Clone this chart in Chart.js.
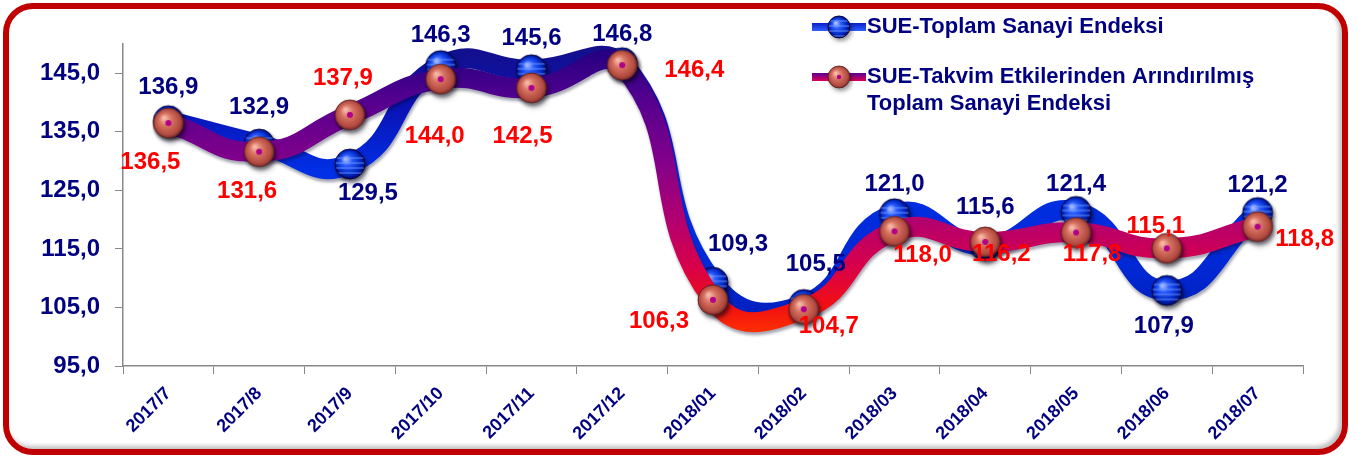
<!DOCTYPE html>
<html>
<head>
<meta charset="utf-8">
<script src="https://cdn.jsdelivr.net/npm/chart.js@4.4.0/dist/chart.umd.min.js"></script>
<style>
body{margin:0;background:#fff;width:1362px;height:458px;overflow:hidden}
#box{position:absolute;left:3px;top:3px;width:1333px;height:440px;border:6px solid #c00000;border-radius:30px;background:#fff;
box-shadow:inset -3px -3px 4px rgba(0,0,0,0.25);overflow:hidden}
#chart{display:block}
</style>
</head>
<body>
<div id="box"><canvas id="chart" width="1333" height="440"></canvas></div>
<script>

// data
const months = ["2017/7","2017/8","2017/9","2017/10","2017/11","2017/12","2018/01","2018/02","2018/03","2018/04","2018/05","2018/06","2018/07"]
const toplam = [136.9,132.9,129.5,146.3,145.6,146.8,109.3,105.5,121.0,115.6,121.4,107.9,121.2]
const takvim = [136.5,131.6,137.9,144.0,142.5,146.4,106.3,104.7,118.0,116.2,117.8,115.1,118.8]
const yTicks = [95,105,115,125,135,145]
const seriesNames = ["SUE-Toplam Sanayi Endeksi","SUE-Takvim Etkilerinden Arındırılmış Toplam Sanayi Endeksi"]

// where each value label sits, relative to its point
const blueLabelPos = [[0,-33],[0,-37],[18,29],[0,-30],[0,-31],[0,-28],[25,-38],[12,-40],[0,-29],[0,-38],[0,-27],[-3,36],[0,-27]]
const redLabelPos = [[-18,39],[-12,40],[-7,-36],[-6,57],[-9,48],[72,5],[-54,22],[25,17],[28,24],[16,12],[16,22],[-11,-22],[47,13]]

const NAVY = "#000080"
const RED = "#ff0000"
const FONT = "'Liberation Sans', Arial, sans-serif"

function fmt(v){
return v.toFixed(1).replace(".",",")
}

function sphere(r, blue){
const c = document.createElement("canvas")
const s = r*2+14
c.width = s
c.height = s
const g = c.getContext("2d")
const cx = s/2, cy = s/2
g.save()
g.shadowColor = "rgba(0,0,0,0.4)"
g.shadowBlur = 4
g.shadowOffsetX = 2
g.shadowOffsetY = 3
const rg = g.createRadialGradient(cx-r*0.3, cy-r*0.35, 1, cx, cy, r*1.05)
if(blue){
rg.addColorStop(0,"#a8bcff")
rg.addColorStop(0.3,"#2a5cff")
rg.addColorStop(0.75,"#0026c0")
rg.addColorStop(1,"#000050")
}else{
rg.addColorStop(0,"#f6b8a8")
rg.addColorStop(0.35,"#d87462")
rg.addColorStop(0.8,"#b24a40")
rg.addColorStop(1,"#6a2424")
}
g.fillStyle = rg
g.beginPath()
g.arc(cx,cy,r,0,Math.PI*2)
g.fill()
g.restore()
g.save()
g.beginPath()
g.arc(cx,cy,r,0,Math.PI*2)
g.clip()
if(blue){
g.strokeStyle = "rgba(120,160,255,0.55)"
g.lineWidth = 1.6
;[-6,-1,4,9].forEach(d=>{
g.beginPath()
g.moveTo(cx-r,cy+d)
g.lineTo(cx+r,cy+d)
g.stroke()
})
}
g.restore()
g.strokeStyle = blue ? "rgba(0,0,60,0.9)" : "rgba(90,30,30,0.8)"
g.lineWidth = 1
g.beginPath()
g.arc(cx,cy,r,0,Math.PI*2)
g.stroke()
if(!blue){
g.fillStyle = "#b0008a"
g.beginPath()
g.arc(cx,cy,r*0.2,0,Math.PI*2)
g.fill()
}
return c
}

const blueBall = sphere(15,true)
const redBall = sphere(15,false)
const blueBallSmall = sphere(11,true)
const redBallSmall = sphere(11,false)

function lineGradient(chart, stops){
const {ctx, chartArea, scales} = chart
if(!chartArea) return null
const y = scales.y
const top = y.getPixelForValue(150)
const bottom = y.getPixelForValue(95)
const grad = ctx.createLinearGradient(0,top,0,bottom)
stops.forEach(s=>{
grad.addColorStop(Math.min(1,Math.max(0,(150-s[0])/55)), s[1])
})
return grad
}

const blueStops = [[150,"#14108a"],[140,"#0a10b0"],[128,"#0030e6"],[112,"#0028d4"],[95,"#0018a8"]]
const redStops = [[150,"#1e0080"],[140,"#56008f"],[130,"#82008a"],[120,"#b20070"],[112,"#d8004a"],[105,"#f21010"],[100,"#ff3600"],[96,"#ff7800"]]

const tubeShadow = {
id:"tubeShadow",
beforeDatasetDraw(chart){
const ctx = chart.ctx
ctx.save()
ctx.shadowColor = "rgba(0,0,40,0.35)"
ctx.shadowBlur = 3
ctx.shadowOffsetX = 1
ctx.shadowOffsetY = 3
},
afterDatasetDraw(chart){
chart.ctx.restore()
}
}

const valueLabels = {
id:"valueLabels",
afterDatasetsDraw(chart){
const ctx = chart.ctx
ctx.save()
ctx.font = "bold 24px " + FONT
ctx.textAlign = "center"
ctx.textBaseline = "middle"
const sets = [[0,blueLabelPos,NAVY],[1,redLabelPos,RED]]
sets.forEach(s=>{
const meta = chart.getDatasetMeta(s[0])
const vals = chart.data.datasets[s[0]].data
meta.data.forEach((pt,i)=>{
ctx.fillStyle = s[2]
ctx.fillText(fmt(vals[i]), pt.x + s[1][i][0], pt.y + s[1][i][1])
})
})
ctx.restore()
}
}

function wrap(ctx, text, maxW){
const words = text.split(" ")
const lines = []
let line = ""
words.forEach(w=>{
const test = line ? line + " " + w : w
if(ctx.measureText(test).width > maxW && line){
lines.push(line)
line = w
}else{
line = test
}
})
lines.push(line)
return lines
}

const sideLegend = {
id:"sideLegend",
afterDraw(chart){
const ctx = chart.ctx
ctx.save()
ctx.font = "bold 22px " + FONT
ctx.textBaseline = "middle"
const items = [
{name:seriesNames[0], y:18, ball:blueBallSmall, c1:"#0a20c8", c2:"#3060ff"},
{name:seriesNames[1], y:68, ball:redBallSmall, c1:"#5a0090", c2:"#e0005a"}
]
items.forEach(it=>{
const g = ctx.createLinearGradient(0,it.y-4,0,it.y+4)
g.addColorStop(0,it.c1)
g.addColorStop(1,it.c2)
ctx.fillStyle = g
ctx.fillRect(803,it.y-4,54,8)
ctx.drawImage(it.ball, 830-it.ball.width/2, it.y-it.ball.height/2)
ctx.fillStyle = NAVY
const lines = wrap(ctx, it.name, 420)
lines.forEach((l,k)=>{
ctx.fillText(l, 858, it.y + k*27)
})
})
ctx.restore()
}
}

const ctx = document.getElementById("chart")

new Chart(ctx,{
type:"line",
data:{
labels:months,
datasets:[
{
label:seriesNames[0],
data:toplam,
order:2,
borderColor:c=>lineGradient(c.chart, blueStops),
borderWidth:20,
tension:0.5,
clip:false,
pointStyle:blueBall,
pointRadius:15,
pointHoverRadius:15
},
{
label:seriesNames[1],
data:takvim,
order:1,
borderColor:c=>lineGradient(c.chart, redStops),
borderWidth:20,
tension:0.5,
clip:false,
pointStyle:redBall,
pointRadius:15,
pointHoverRadius:15
}
]
},
options:{
responsive:false,
animation:false,
layout:{padding:{left:0,top:35,right:39,bottom:0}},
plugins:{
legend:{display:false},
tooltip:{enabled:false}
},
scales:{
x:{
offset:true,
grid:{offset:true,drawOnChartArea:false,drawTicks:true,tickLength:8,color:"#888"},
border:{display:true,color:"#888",width:1.5},
ticks:{
color:NAVY,
font:{family:FONT,size:18,weight:"bold"},
maxRotation:45,
minRotation:45,
padding:9,
autoSkip:false
},
afterFit(scale){ scale.height = 83 }
},
y:{
min:95,
max:150,
afterBuildTicks(scale){
scale.ticks = yTicks.map(v=>({value:v}))
},
grid:{drawOnChartArea:false,drawTicks:true,tickLength:8,color:"#888"},
border:{display:true,color:"#888",width:1.5},
ticks:{
color:NAVY,
font:{family:FONT,size:24,weight:"bold"},
padding:15,
callback:v=>fmt(v)
},
afterFit(scale){ scale.width = 114 }
}
}
},
plugins:[tubeShadow, valueLabels, sideLegend]
})

</script>
</body>
</html>
